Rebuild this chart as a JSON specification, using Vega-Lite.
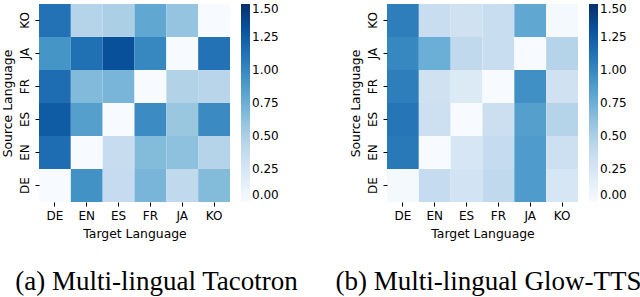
{
  "$schema": "https://vega.github.io/schema/vega-lite/v6.json",
  "padding": {"left": 1, "top": 4, "right": 0, "bottom": 0},
  "config": {
    "view": {"stroke": null},
    "font": "DejaVu Sans",
    "axis": {"domain": false, "tickSize": 4, "tickColor": "#000", "labelColor": "#000", "titleColor": "#000", "labelFontSize": 12, "titleFontSize": 12.4, "titleFontWeight": "normal", "labelFont": "DejaVu Sans", "titleFont": "DejaVu Sans", "labelPadding": 4, "titlePadding": 4},
    "axisX": {"titlePadding": 6},
    "legend": {"gradientLength": 198, "gradientThickness": 9, "labelFontSize": 12, "labelColor": "#000", "labelFont": "DejaVu Sans", "offset": 11, "labelOffset": 12, "gradientStrokeWidth": 0, "padding": 0, "labelBaseline": "middle"},
    "title": {"font": "Liberation Serif", "fontSize": 27, "fontWeight": "normal", "orient": "bottom", "color": "#000", "offset": 30},
    "concat": {"spacing": 36}
  },
  "datasets": {
    "tacotron": [
      {"source": "KO", "target": "DE", "value": 1.12}, {"source": "KO", "target": "EN", "value": 0.45}, {"source": "KO", "target": "ES", "value": 0.5}, {"source": "KO", "target": "FR", "value": 0.8}, {"source": "KO", "target": "JA", "value": 0.6}, {"source": "KO", "target": "KO", "value": 0.0},
      {"source": "JA", "target": "DE", "value": 0.92}, {"source": "JA", "target": "EN", "value": 1.13}, {"source": "JA", "target": "ES", "value": 1.32}, {"source": "JA", "target": "FR", "value": 1.0}, {"source": "JA", "target": "JA", "value": 0.0}, {"source": "JA", "target": "KO", "value": 1.12},
      {"source": "FR", "target": "DE", "value": 1.15}, {"source": "FR", "target": "EN", "value": 0.67}, {"source": "FR", "target": "ES", "value": 0.7}, {"source": "FR", "target": "FR", "value": 0.0}, {"source": "FR", "target": "JA", "value": 0.47}, {"source": "FR", "target": "KO", "value": 0.44},
      {"source": "ES", "target": "DE", "value": 1.25}, {"source": "ES", "target": "EN", "value": 0.85}, {"source": "ES", "target": "ES", "value": 0.0}, {"source": "ES", "target": "FR", "value": 0.97}, {"source": "ES", "target": "JA", "value": 0.58}, {"source": "ES", "target": "KO", "value": 0.98},
      {"source": "EN", "target": "DE", "value": 1.15}, {"source": "EN", "target": "EN", "value": 0.0}, {"source": "EN", "target": "ES", "value": 0.36}, {"source": "EN", "target": "FR", "value": 0.66}, {"source": "EN", "target": "JA", "value": 0.62}, {"source": "EN", "target": "KO", "value": 0.45},
      {"source": "DE", "target": "DE", "value": 0.0}, {"source": "DE", "target": "EN", "value": 0.94}, {"source": "DE", "target": "ES", "value": 0.375}, {"source": "DE", "target": "FR", "value": 0.7}, {"source": "DE", "target": "JA", "value": 0.4}, {"source": "DE", "target": "KO", "value": 0.66}
    ],
    "glow": [
      {"source": "KO", "target": "DE", "value": 1.05}, {"source": "KO", "target": "EN", "value": 0.35}, {"source": "KO", "target": "ES", "value": 0.3}, {"source": "KO", "target": "FR", "value": 0.35}, {"source": "KO", "target": "JA", "value": 0.8}, {"source": "KO", "target": "KO", "value": 0.02},
      {"source": "JA", "target": "DE", "value": 1.0}, {"source": "JA", "target": "EN", "value": 0.75}, {"source": "JA", "target": "ES", "value": 0.4}, {"source": "JA", "target": "FR", "value": 0.35}, {"source": "JA", "target": "JA", "value": 0.0}, {"source": "JA", "target": "KO", "value": 0.45},
      {"source": "FR", "target": "DE", "value": 1.05}, {"source": "FR", "target": "EN", "value": 0.3}, {"source": "FR", "target": "ES", "value": 0.2}, {"source": "FR", "target": "FR", "value": 0.0}, {"source": "FR", "target": "JA", "value": 0.95}, {"source": "FR", "target": "KO", "value": 0.3},
      {"source": "ES", "target": "DE", "value": 1.1}, {"source": "ES", "target": "EN", "value": 0.32}, {"source": "ES", "target": "ES", "value": 0.0}, {"source": "ES", "target": "FR", "value": 0.33}, {"source": "ES", "target": "JA", "value": 0.85}, {"source": "ES", "target": "KO", "value": 0.45},
      {"source": "EN", "target": "DE", "value": 1.08}, {"source": "EN", "target": "EN", "value": 0.0}, {"source": "EN", "target": "ES", "value": 0.25}, {"source": "EN", "target": "FR", "value": 0.38}, {"source": "EN", "target": "JA", "value": 0.88}, {"source": "EN", "target": "KO", "value": 0.32},
      {"source": "DE", "target": "DE", "value": 0.02}, {"source": "DE", "target": "EN", "value": 0.38}, {"source": "DE", "target": "ES", "value": 0.28}, {"source": "DE", "target": "FR", "value": 0.4}, {"source": "DE", "target": "JA", "value": 0.88}, {"source": "DE", "target": "KO", "value": 0.25}
    ]
  },
  "resolve": {"scale": {"color": "independent"}, "legend": {"color": "independent"}},
  "hconcat": [
    {
      "width": 191, "height": 198,
      "title": {"text": "(a) Multi-lingual Tacotron", "dx": 22},
      "data": {"name": "tacotron"},
      "mark": {"type": "rect"},
      "encoding": {
        "x": {"field": "target", "type": "nominal", "sort": ["DE", "EN", "ES", "FR", "JA", "KO"], "title": "Target Language", "axis": {"labelAngle": 0}},
        "y": {"field": "source", "type": "nominal", "sort": ["KO", "JA", "FR", "ES", "EN", "DE"], "title": "Source Language", "axis": {"labelAngle": -90}},
        "color": {"field": "value", "type": "quantitative",
          "scale": {"domain": [0, 0.1875, 0.375, 0.5625, 0.75, 0.9375, 1.125, 1.3125, 1.5], "range": ["#f7fbff", "#deebf7", "#c6dbef", "#9ecae1", "#6baed6", "#4292c6", "#2171b5", "#08519c", "#08306b"], "interpolate": "rgb"},
          "legend": {"title": null, "values": [0, 0.25, 0.5, 0.75, 1, 1.25, 1.5], "format": ".2f", "direction": "vertical"}}
      }
    },
    {
      "width": 191, "height": 198,
      "title": {"text": "(b) Multi-lingual Glow-TTS", "dx": 6},
      "data": {"name": "glow"},
      "mark": {"type": "rect"},
      "encoding": {
        "x": {"field": "target", "type": "nominal", "sort": ["DE", "EN", "ES", "FR", "JA", "KO"], "title": "Target Language", "axis": {"labelAngle": 0}},
        "y": {"field": "source", "type": "nominal", "sort": ["KO", "JA", "FR", "ES", "EN", "DE"], "title": "Source Language", "axis": {"labelAngle": -90}},
        "color": {"field": "value", "type": "quantitative",
          "scale": {"domain": [0, 0.1875, 0.375, 0.5625, 0.75, 0.9375, 1.125, 1.3125, 1.5], "range": ["#f7fbff", "#deebf7", "#c6dbef", "#9ecae1", "#6baed6", "#4292c6", "#2171b5", "#08519c", "#08306b"], "interpolate": "rgb"},
          "legend": {"title": null, "values": [0, 0.25, 0.5, 0.75, 1, 1.25, 1.5], "format": ".2f", "direction": "vertical"}}
      }
    }
  ]
}
